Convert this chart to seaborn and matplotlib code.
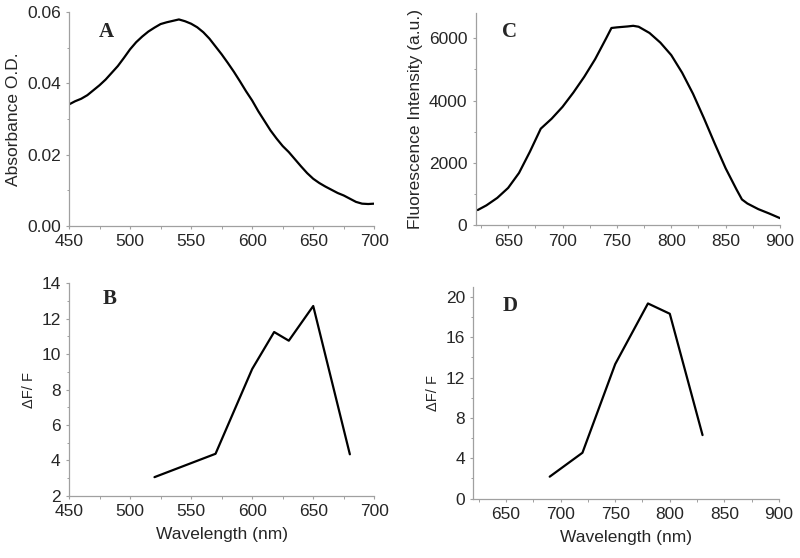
import seaborn as sns
import matplotlib.pyplot as plt
import pandas as pd
from matplotlib.ticker import MultipleLocator, FormatStrFormatter

# Panel A: absorbance spectrum
abs_wl = [450, 455, 460, 465, 470, 475, 480, 485, 490, 495, 500, 505, 510, 515, 520,
          525, 530, 535, 540, 545, 550, 555, 560, 565, 570, 575, 580, 585, 590, 595,
          600, 605, 610, 615, 620, 625, 630, 635, 640, 645, 650, 655, 660, 665, 670,
          675, 680, 685, 690, 695, 700]
abs_od = [0.0341, 0.0350, 0.0357, 0.0367, 0.0381, 0.0395, 0.0411, 0.0430, 0.0449, 0.0472,
          0.0496, 0.0516, 0.0532, 0.0546, 0.0557, 0.0567, 0.0572, 0.0576, 0.0580, 0.0575,
          0.0568, 0.0558, 0.0544, 0.0526, 0.0504, 0.0482, 0.0458, 0.0433, 0.0406, 0.0378,
          0.0352, 0.0322, 0.0295, 0.0268, 0.0245, 0.0224, 0.0207, 0.0187, 0.0167, 0.0148,
          0.0132, 0.0120, 0.0110, 0.0101, 0.0092, 0.0085, 0.0076, 0.0067, 0.0062, 0.0061, 0.0062]

# Panel C: fluorescence emission
fl_wl = [622, 630, 640, 650, 660, 670, 680, 690, 700, 710, 720, 730, 740, 745, 750,
         760, 765, 770, 780, 790, 800, 810, 820, 830, 840, 850, 860, 865, 870, 880, 890, 900]
fl_int = [490, 640, 880, 1200, 1680, 2360, 3100, 3420, 3800, 4260, 4765, 5330, 5990, 6330, 6350,
          6380, 6400, 6370, 6170, 5860, 5460, 4895, 4220, 3440, 2620, 1830, 1150, 830, 700, 520, 380, 230]

# Panel B: dF/F vs excitation wavelength
b_wl = [520, 570, 600, 618, 630, 650, 680]
b_dff = [3.05, 4.37, 9.16, 11.25, 10.76, 12.72, 4.34]

# Panel D: dF/F vs emission wavelength
d_wl = [690, 720, 750, 780, 800, 830]
d_dff = [2.18, 4.55, 13.33, 19.34, 18.32, 6.30]

sns.set_style("ticks")
plt.rcParams['font.family'] = ['Liberation Sans', 'DejaVu Sans']

fig = plt.figure(figsize=(8, 5.58), dpi=100)
axA = fig.add_axes([0.08625, 0.5955, 0.3816, 0.3824])
axC = fig.add_axes([0.5944, 0.5962, 0.3806, 0.3799])
axB = fig.add_axes([0.08625, 0.1116, 0.3816, 0.3806])
axD = fig.add_axes([0.5916, 0.1063, 0.3821, 0.3799])

sns.lineplot(data=pd.DataFrame({'wl': abs_wl, 'v': abs_od}), x='wl', y='v', ax=axA, color='black', lw=1.6)
sns.lineplot(data=pd.DataFrame({'wl': fl_wl, 'v': fl_int}), x='wl', y='v', ax=axC, color='black', lw=1.6)
sns.lineplot(data=pd.DataFrame({'wl': b_wl, 'v': b_dff}), x='wl', y='v', ax=axB, color='black', lw=1.6)
sns.lineplot(data=pd.DataFrame({'wl': d_wl, 'v': d_dff}), x='wl', y='v', ax=axD, color='black', lw=1.6)

axA.set_xlim(450, 700)
axA.set_ylim(0, 0.06)
axA.xaxis.set_major_locator(MultipleLocator(50))
axA.xaxis.set_minor_locator(MultipleLocator(25))
axA.yaxis.set_major_locator(MultipleLocator(0.02))
axA.yaxis.set_minor_locator(MultipleLocator(0.01))
axA.yaxis.set_major_formatter(FormatStrFormatter('%.2f'))
axA.set_ylabel('Absorbance O.D.', fontsize=12.5)
axA.set_xlabel('')

axC.set_xlim(620, 900)
axC.set_ylim(0, 6800)
axC.xaxis.set_major_locator(MultipleLocator(50))
axC.xaxis.set_minor_locator(MultipleLocator(25))
axC.yaxis.set_major_locator(MultipleLocator(2000))
axC.yaxis.set_minor_locator(MultipleLocator(1000))
axC.set_ylabel('Fluorescence Intensity (a.u.)', fontsize=12.5)
axC.set_xlabel('')

axB.set_xlim(450, 700)
axB.set_ylim(2, 14)
axB.xaxis.set_major_locator(MultipleLocator(50))
axB.xaxis.set_minor_locator(MultipleLocator(25))
axB.yaxis.set_major_locator(MultipleLocator(2))
axB.yaxis.set_minor_locator(MultipleLocator(1))
axB.set_ylabel('\u0394F/ F', fontsize=10.5)
axB.set_xlabel('Wavelength (nm)', fontsize=12.5, labelpad=6)

axD.set_xlim(620, 900)
axD.set_ylim(0, 21)
axD.xaxis.set_major_locator(MultipleLocator(50))
axD.xaxis.set_minor_locator(MultipleLocator(25))
axD.yaxis.set_major_locator(MultipleLocator(4))
axD.yaxis.set_minor_locator(MultipleLocator(2))
axD.set_ylabel('\u0394F/ F', fontsize=10.5)
axD.set_xlabel('Wavelength (nm)', fontsize=12.5, labelpad=6)

letters = [(axA, 'A', 0.121, 0.908), (axC, 'C', 0.113, 0.913),
           (axB, 'B', 0.134, 0.926), (axD, 'D', 0.12, 0.91)]
for ax, lab, lx, ly in letters:
    ax.text(lx, ly, lab, transform=ax.transAxes, ha='center', va='center',
            fontsize=15, fontweight='bold', family='Liberation Serif')
    for side in ['top', 'right']:
        ax.spines[side].set_visible(False)
    for side in ['left', 'bottom']:
        ax.spines[side].set_color('#a0a0a0')
        ax.spines[side].set_linewidth(0.9)
    ax.tick_params(which='major', direction='out', length=2.5, width=0.8, color='#a0a0a0',
                   labelsize=12.5, pad=3.5)
    ax.tick_params(which='minor', direction='out', length=1.8, width=0.7, color='#a0a0a0')

fig.savefig('out.png', dpi=100)
